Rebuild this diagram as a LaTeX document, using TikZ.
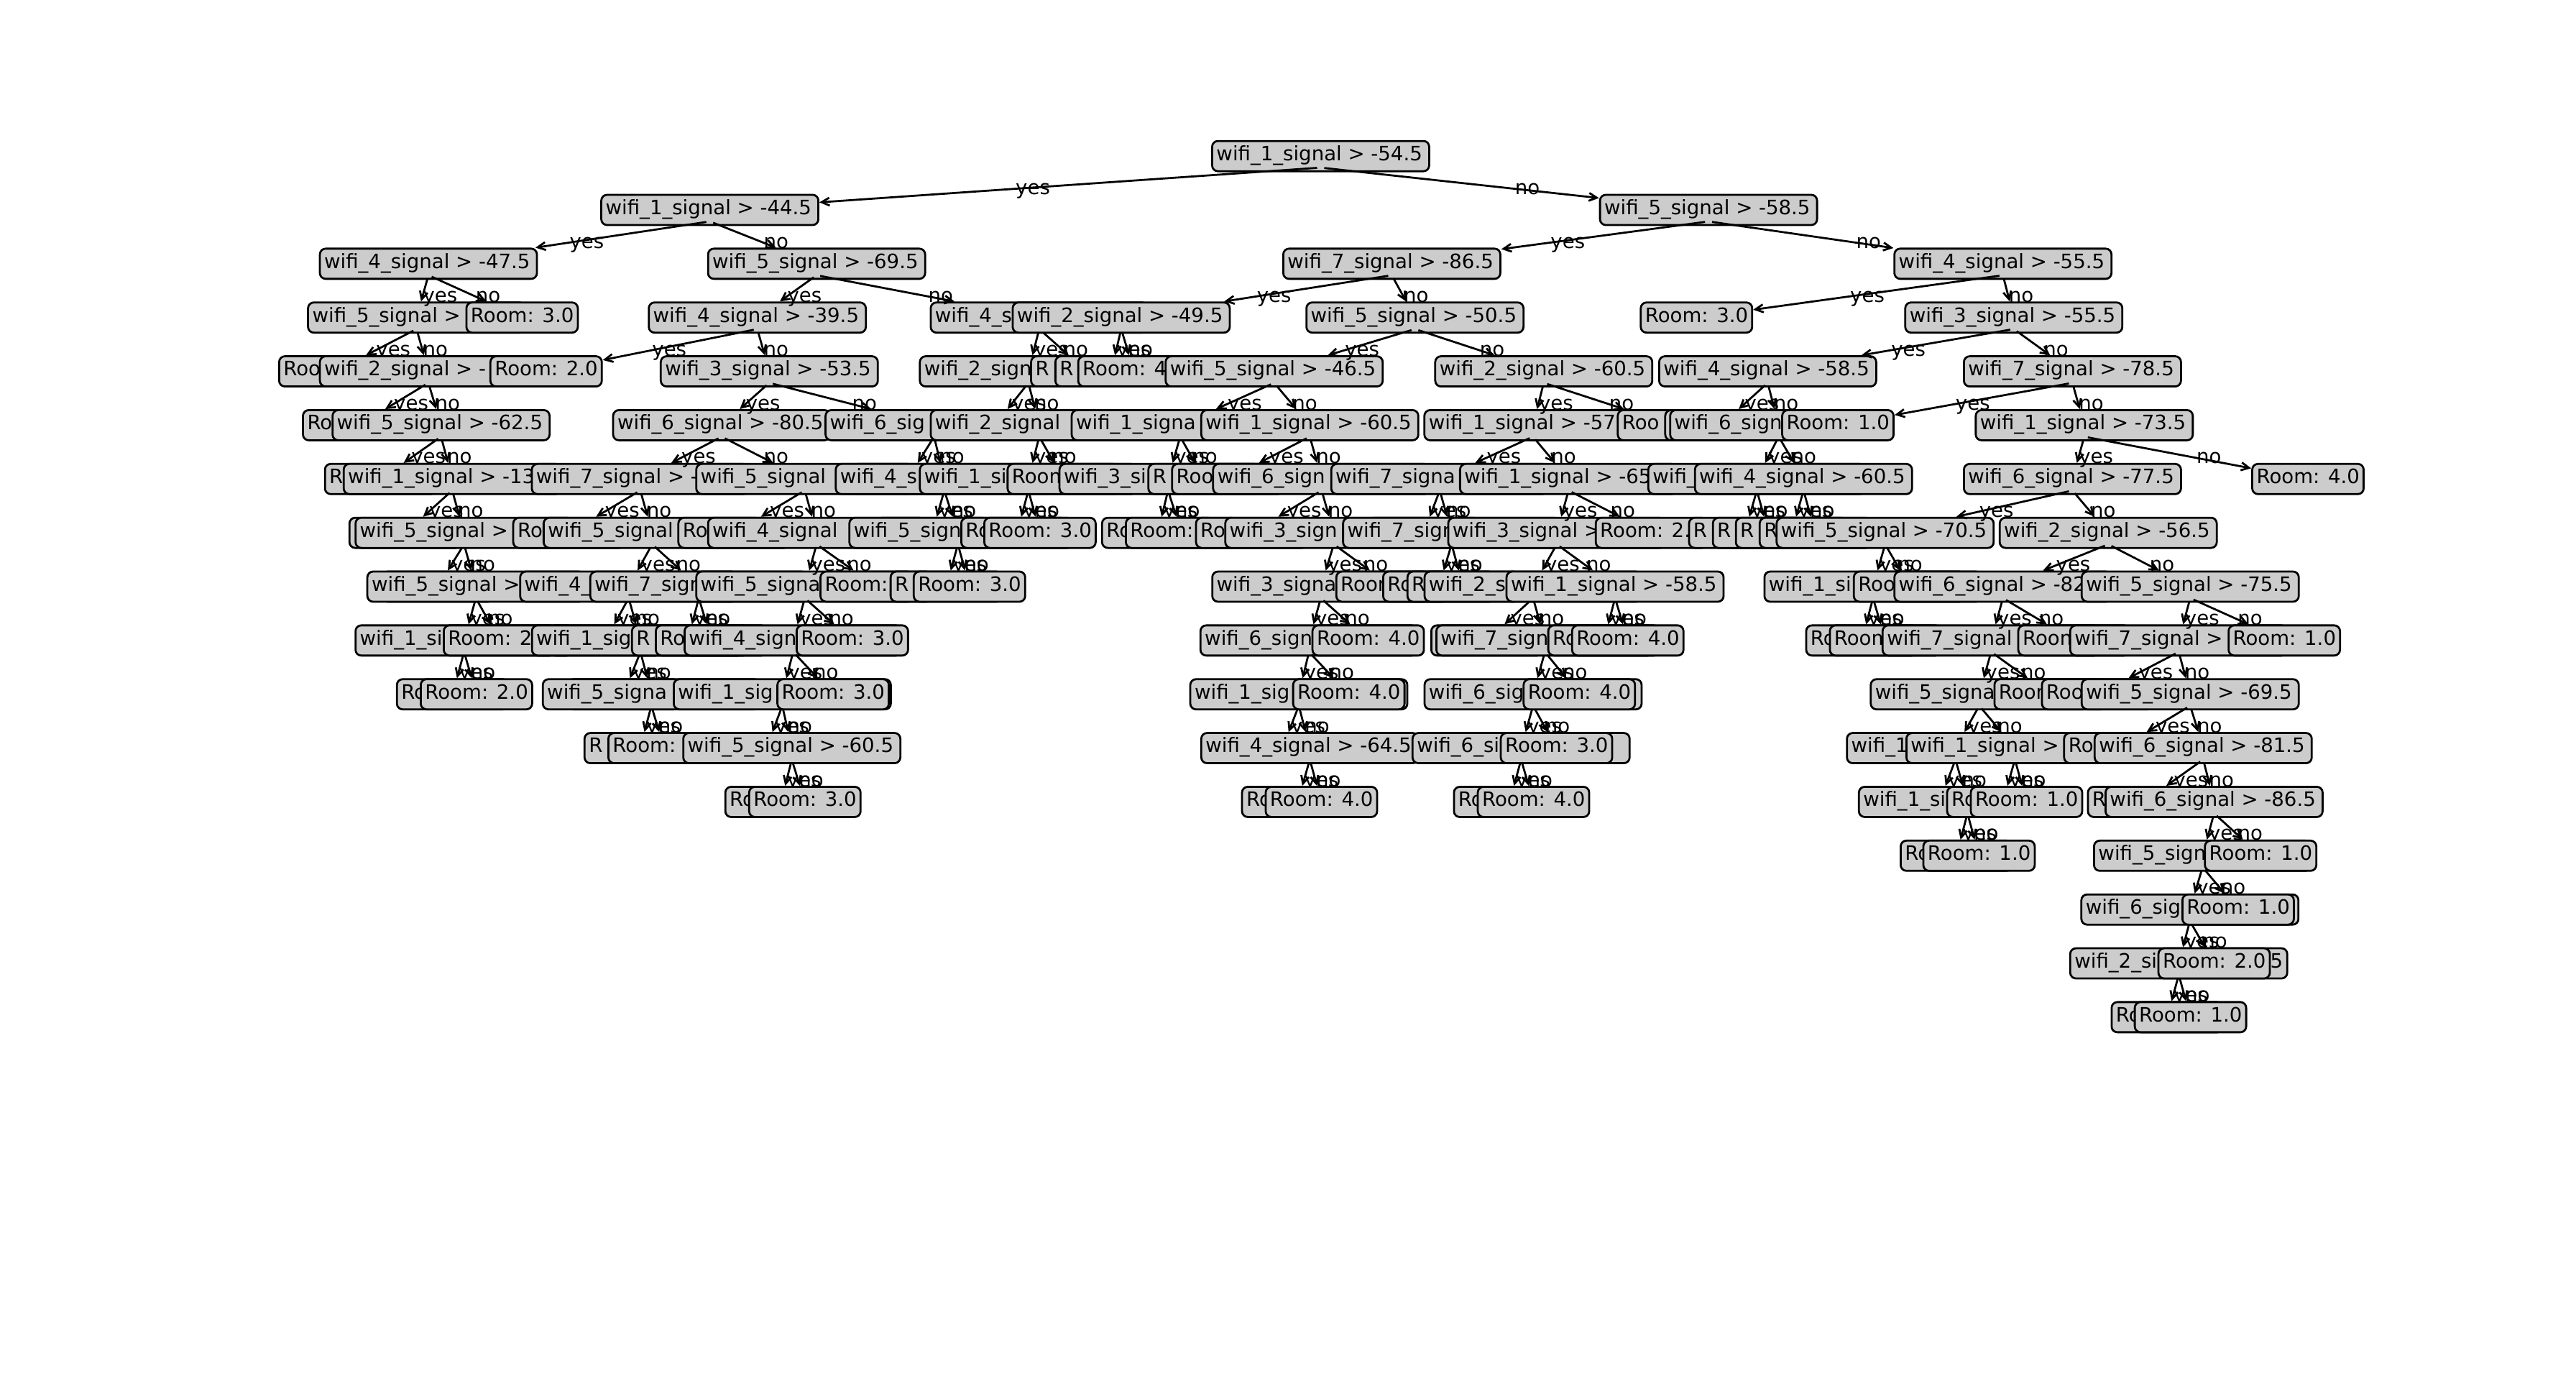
\documentclass[tikz,border=0pt]{standalone}
\usepackage{fontspec}
\setmainfont{DejaVu Sans}
\usetikzlibrary{arrows.meta,calc}
\definecolor{boxgray}{HTML}{CCCCCC}
\newcommand\mplfont{\fontsize{7.85pt}{9.4pt}\selectfont}
\newcommand\sgnode[4]{\node[sig] (#1) at (#2,{95+32.75*(#3)}) {\makebox[29mm][l]{#4}};}
\newcommand\rmnode[4]{\node[room] (#1) at (#2,{95+32.75*(#3)}) {\makebox[14.3mm][l]{#4}};}
\newcommand\edg[3]{\draw[arr] ($(#1.center)+(0,7)$) -- (#2); \node[lbl] (l#2) at ($(#1.center)!0.5!(#2.center)+(0,7)$) {#3};}
\begin{document}
\begin{tikzpicture}[x=0.22857mm, y=-0.22857mm,
  box/.style={draw=black, fill=boxgray, line width=0.79pt, rounded corners=0.8mm, anchor=west, inner xsep=0.6mm, inner ysep=0.6mm, text height=2.13mm, text depth=0.87mm, font=\mplfont},
  sig/.style={box}, room/.style={box},
  arr/.style={-{Straight Barb[length=1.1mm,width=1.1mm]}, line width=0.79pt, shorten <=0.5mm},
  lbl/.style={anchor=base west, inner sep=0pt, font=\mplfont}]
\fill[white] (0,0) rectangle (1568,851);
\useasboundingbox (0,0) rectangle (1568,851);
% root
\sgnode{r}{737.2}{0}{wifi\_1\_signal > -54.5}
% ---------- A subtree
\sgnode{A}{365.4}{1}{wifi\_1\_signal > -44.5} \edg{r}{A}{yes}
\sgnode{A1}{194.1}{2}{wifi\_4\_signal > -47.5} \edg{A}{A1}{yes}
\sgnode{A11}{186.9}{3}{wifi\_5\_signal >} \edg{A1}{A11}{yes}
\rmnode{A111}{169.3}{4}{Roo} \edg{A11}{A111}{yes}
\sgnode{A112}{194.1}{4}{wifi\_2\_signal > -} \edg{A11}{A112}{no}
\rmnode{A1121}{183.8}{5}{Ro} \edg{A112}{A1121}{yes}
\sgnode{A1122}{201.8}{5}{wifi\_5\_signal > -62.5} \edg{A112}{A1122}{no}
\rmnode{a1}{197.2}{6}{R} \edg{A1122}{a1}{yes}
\sgnode{b}{208.6}{6}{wifi\_1\_signal > -13} \edg{A1122}{b}{no}
\rmnode{b1}{212.1}{7}{} \edg{b}{b1}{yes}
\sgnode{b2}{215.8}{7}{wifi\_5\_signal >} \edg{b}{b2}{no}
\rmnode{h4}{232}{8}{} \edg{b2}{h4}{yes}
\sgnode{b22}{223}{8}{wifi\_5\_signal >} \edg{b2}{b22}{no}
\sgnode{b221}{215.8}{9}{wifi\_1\_si} \edg{b22}{b221}{yes}
\rmnode{b2211}{241}{10}{Ro} \edg{b221}{b2211}{yes}
\rmnode{b2212}{255.5}{10}{Room: 2.0} \edg{b221}{b2212}{no}
\rmnode{b222}{269.5}{9}{Room: 2} \edg{b22}{b222}{no}
\rmnode{A12}{283.3}{3}{Room: 3.0} \edg{A1}{A12}{no}
\sgnode{A2}{430.4}{2}{wifi\_5\_signal > -69.5} \edg{A}{A2}{no}
\sgnode{A21}{394.3}{3}{wifi\_4\_signal > -39.5} \edg{A2}{A21}{yes}
\rmnode{A211}{297.9}{4}{Room: 2.0} \edg{A21}{A211}{yes}
\sgnode{A212}{401.6}{4}{wifi\_3\_signal > -53.5} \edg{A21}{A212}{no}
\sgnode{c}{372.6}{5}{wifi\_6\_signal > -80.5} \edg{A212}{c}{yes}
\sgnode{c1}{323.1}{6}{wifi\_7\_signal > -} \edg{c}{c1}{yes}
\rmnode{c11}{311.8}{7}{Ro} \edg{c1}{c11}{yes}
\sgnode{c12}{330.3}{7}{wifi\_5\_signal} \edg{c1}{c12}{no}
\sgnode{c121}{316}{8}{wifi\_4\_} \edg{c12}{c121}{yes}
\rmnode{h5}{334}{9}{} \edg{c121}{h5}{yes}
\sgnode{c1212}{323.2}{9}{wifi\_1\_sig} \edg{c121}{c1212}{no}
\rmnode{h6}{345}{10}{} \edg{c1212}{h6}{yes}
\sgnode{c12122}{329.8}{10}{wifi\_5\_signa} \edg{c1212}{c12122}{no}
\rmnode{c121221}{355.2}{11}{R} \edg{c12122}{c121221}{yes}
\rmnode{c121222}{369.7}{11}{Room:} \edg{c12122}{c121222}{no}
\sgnode{c122}{358.7}{8}{wifi\_7\_sign} \edg{c12}{c122}{no}
\rmnode{c1221}{384.1}{9}{R} \edg{c122}{c1221}{yes}
\rmnode{c1222}{398.6}{9}{Ro} \edg{c122}{c1222}{no}
\sgnode{c2}{423.2}{6}{wifi\_5\_signal} \edg{c}{c2}{no}
\rmnode{c21}{412.3}{7}{Ro} \edg{c2}{c21}{yes}
\sgnode{c22}{430.4}{7}{wifi\_4\_signal} \edg{c2}{c22}{no}
\sgnode{c221}{423.2}{8}{wifi\_5\_signa} \edg{c22}{c221}{yes}
\sgnode{c2211}{416.1}{9}{wifi\_4\_sign} \edg{c221}{c2211}{yes}
\sgnode{c22111}{409.5}{10}{wifi\_1\_sig} \edg{c2211}{c22111}{yes}
\rmnode{h7}{432}{11}{} \edg{c22111}{h7}{yes}
\sgnode{c221112}{415.3}{11}{wifi\_5\_signal > -60.5} \edg{c22111}{c221112}{no}
\rmnode{c2211121}{440.9}{12}{Ro} \edg{c221112}{c2211121}{yes}
\rmnode{c2211122}{455.4}{12}{Room: 3.0} \edg{c221112}{c2211122}{no}
\rmnode{c22112}{472.6}{10}{Room: 3.0} \edg{c2211}{c22112}{no}
\rmnode{c2212}{484.3}{9}{Room: 3.0} \edg{c221}{c2212}{no}
\rmnode{c222}{498.8}{8}{Room:} \edg{c22}{c222}{no}
\sgnode{d}{501.9}{5}{wifi\_6\_sig} \edg{A212}{d}{no}
\rmnode{h2}{518}{6}{} \edg{d}{h2}{yes}
\sgnode{d2}{508.1}{6}{wifi\_4\_s} \edg{d}{d2}{no}
\rmnode{h3}{533}{7}{} \edg{d2}{h3}{yes}
\sgnode{d22}{516.4}{7}{wifi\_5\_sign} \edg{d2}{d22}{no}
\rmnode{d221}{541.5}{8}{R} \edg{d22}{d221}{yes}
\rmnode{d222}{555.6}{8}{Room: 3.0} \edg{d22}{d222}{no}
\sgnode{A22}{565.9}{3}{wifi\_4\_s} \edg{A2}{A22}{no}
\sgnode{e}{559.3}{4}{wifi\_2\_sign} \edg{A22}{e}{yes}
\rmnode{h1}{571}{5}{} \edg{e}{h1}{yes}
\sgnode{e2}{565.9}{5}{wifi\_2\_signal} \edg{e}{e2}{no}
\sgnode{e21}{559.3}{6}{wifi\_1\_si} \edg{e2}{e21}{yes}
\rmnode{e211}{584.5}{7}{Ro} \edg{e21}{e211}{yes}
\rmnode{e212}{598.5}{7}{Room: 3.0} \edg{e21}{e212}{no}
\rmnode{e22}{612.7}{6}{Room} \edg{e2}{e22}{no}
\rmnode{A222}{627}{4}{R} \edg{A22}{A222}{no}
% ---------- B subtree
\sgnode{B}{973.3}{1}{wifi\_5\_signal > -58.5} \edg{r}{B}{no}
\sgnode{B1}{780.5}{2}{wifi\_7\_signal > -86.5} \edg{B}{B1}{yes}
\sgnode{B11}{615.8}{3}{wifi\_2\_signal > -49.5} \edg{B1}{B11}{yes}
\rmnode{B111}{641.8}{4}{R} \edg{B11}{B111}{yes}
\rmnode{B112}{655.7}{4}{Room: 4} \edg{B11}{B112}{no}
\sgnode{B12}{794.6}{3}{wifi\_5\_signal > -50.5} \edg{B1}{B12}{no}
\sgnode{f}{708.9}{4}{wifi\_5\_signal > -46.5} \edg{B12}{f}{yes}
\sgnode{f1}{651.7}{5}{wifi\_1\_signa} \edg{f}{f1}{yes}
\sgnode{f11}{644.3}{6}{wifi\_3\_si} \edg{f1}{f11}{yes}
\rmnode{f111}{670.2}{7}{Ro} \edg{f11}{f111}{yes}
\rmnode{f112}{684.7}{7}{Room:} \edg{f11}{f112}{no}
\rmnode{f12}{698.4}{6}{R} \edg{f1}{f12}{no}
\sgnode{f2}{730.6}{5}{wifi\_1\_signal > -60.5} \edg{f}{f2}{no}
\rmnode{f21}{712.8}{6}{Roo} \edg{f2}{f21}{yes}
\sgnode{f22}{737.8}{6}{wifi\_6\_sign} \edg{f2}{f22}{no}
\rmnode{f221}{727.4}{7}{Ro} \edg{f22}{f221}{yes}
\sgnode{f222}{745.2}{7}{wifi\_3\_sign} \edg{f22}{f222}{no}
\sgnode{f2221}{737.3}{8}{wifi\_3\_signa} \edg{f222}{f2221}{yes}
\sgnode{f22211}{730.1}{9}{wifi\_6\_sign} \edg{f2221}{f22211}{yes}
\sgnode{f222111}{723.9}{10}{wifi\_1\_sig} \edg{f22211}{f222111}{yes}
\rmnode{h9}{746}{11}{} \edg{f222111}{h9}{yes}
\sgnode{f2221112}{730.6}{11}{wifi\_4\_signal > -64.5} \edg{f222111}{f2221112}{no}
\rmnode{f22211121}{755.4}{12}{Ro} \edg{f2221112}{f22211121}{yes}
\rmnode{f22211122}{769.8}{12}{Room: 4.0} \edg{f2221112}{f22211122}{no}
\rmnode{f222112}{786.5}{10}{Room: 4.0} \edg{f22211}{f222112}{no}
\rmnode{f22212}{798.3}{9}{Room: 4.0} \edg{f2221}{f22212}{no}
\rmnode{f2222}{812.8}{8}{Room} \edg{f222}{f2222}{no}
\sgnode{g}{873}{4}{wifi\_2\_signal > -60.5} \edg{B12}{g}{no}
\sgnode{g1}{866.4}{5}{wifi\_1\_signal > -57} \edg{g}{g1}{yes}
\sgnode{g11}{809.7}{6}{wifi\_7\_signa} \edg{g1}{g11}{yes}
\rmnode{h8}{832}{7}{} \edg{g11}{h8}{yes}
\sgnode{g112}{816.9}{7}{wifi\_7\_sign} \edg{g11}{g112}{no}
\rmnode{g1121}{841.3}{8}{Ro} \edg{g112}{g1121}{yes}
\rmnode{g1122}{856.1}{8}{R} \edg{g112}{g1122}{no}
\sgnode{g12}{888.1}{6}{wifi\_1\_signal > -65} \edg{g1}{g12}{no}
\sgnode{g121}{880.9}{7}{wifi\_3\_signal >} \edg{g12}{g121}{yes}
\sgnode{g1211}{866.5}{8}{wifi\_2\_s} \edg{g121}{g1211}{yes}
\rmnode{g12111}{870.6}{9}{} \edg{g1211}{g12111}{yes}
\sgnode{g12112}{873.7}{9}{wifi\_7\_sign} \edg{g1211}{g12112}{no}
\sgnode{g121121}{866.5}{10}{wifi\_6\_sig} \edg{g12112}{g121121}{yes}
\sgnode{g1211211}{859.2}{11}{wifi\_6\_si} \edg{g121121}{g1211211}{yes}
\rmnode{g12112111}{884.4}{12}{Ro} \edg{g1211211}{g12112111}{yes}
\rmnode{g12112112}{898.9}{12}{Room: 4.0} \edg{g1211211}{g12112112}{no}
\rmnode{g1211212}{912.9}{11}{Room: 3.0} \edg{g121121}{g1211212}{no}
\rmnode{g121122}{926.8}{10}{Room: 4.0} \edg{g12112}{g121122}{no}
\sgnode{g1212}{916.4}{8}{wifi\_1\_signal > -58.5} \edg{g121}{g1212}{no}
\rmnode{g12121}{941.8}{9}{Ro} \edg{g1212}{g12121}{yes}
\rmnode{g12122}{956.3}{9}{Room: 4.0} \edg{g1212}{g12122}{no}
\rmnode{g122}{970.7}{7}{Room: 2.} \edg{g12}{g122}{no}
\rmnode{g2}{984.1}{5}{Roo} \edg{g}{g2}{no}
\sgnode{C}{1152.5}{2}{wifi\_4\_signal > -55.5} \edg{B}{C}{no}
\rmnode{C1}{998.1}{3}{Room: 3.0} \edg{C}{C1}{yes}
\sgnode{C2}{1159.1}{3}{wifi\_3\_signal > -55.5} \edg{C}{C2}{no}
\sgnode{C21}{1009.3}{4}{wifi\_4\_signal > -58.5} \edg{C2}{C21}{yes}
\rmnode{C211}{1013}{5}{} \edg{C21}{C211}{yes}
\sgnode{C212}{1016}{5}{wifi\_6\_sign} \edg{C21}{C212}{no}
\sgnode{C2121}{1002.7}{6}{wifi\_} \edg{C212}{C2121}{yes}
\rmnode{C21211}{1027.5}{7}{R} \edg{C2121}{C21211}{yes}
\rmnode{C21212}{1042}{7}{R} \edg{C2121}{C21212}{no}
\sgnode{C2122}{1031.1}{6}{wifi\_4\_signal > -60.5} \edg{C212}{C2122}{no}
\rmnode{C21221}{1056}{7}{R} \edg{C2122}{C21221}{yes}
\rmnode{C21222}{1070.5}{7}{R} \edg{C2122}{C21222}{no}
\sgnode{C22}{1194.8}{4}{wifi\_7\_signal > -78.5} \edg{C2}{C22}{no}
\rmnode{C221}{1084.2}{5}{Room: 1.0} \edg{C22}{C221}{yes}
\sgnode{C222}{1202}{5}{wifi\_1\_signal > -73.5} \edg{C22}{C222}{no}
\sgnode{D}{1194.8}{6}{wifi\_6\_signal > -77.5} \edg{C222}{D}{yes}
\sgnode{D1}{1080.8}{7}{wifi\_5\_signal > -70.5} \edg{D}{D1}{yes}
\sgnode{D11}{1073.4}{8}{wifi\_1\_si} \edg{D1}{D11}{yes}
\rmnode{D111}{1098.8}{9}{Ro} \edg{D11}{D111}{yes}
\rmnode{D112}{1113.2}{9}{Room} \edg{D11}{D112}{no}
\rmnode{D12}{1127.8}{8}{Roo} \edg{D1}{D12}{no}
\sgnode{D2}{1216.6}{7}{wifi\_2\_signal > -56.5} \edg{D}{D2}{no}
\sgnode{D21}{1152.5}{8}{wifi\_6\_signal > -82} \edg{D2}{D21}{yes}
\sgnode{D211}{1145.3}{9}{wifi\_7\_signal} \edg{D21}{D211}{yes}
\sgnode{D2111}{1138.1}{10}{wifi\_5\_signa} \edg{D211}{D2111}{yes}
\sgnode{D21111}{1123.6}{11}{wifi\_1} \edg{D2111}{D21111}{yes}
\rmnode{h10}{1146}{12}{} \edg{D21111}{h10}{yes}
\sgnode{D211112}{1130.9}{12}{wifi\_1\_si} \edg{D21111}{D211112}{no}
\rmnode{D2111121}{1156.3}{13}{Ro} \edg{D211112}{D2111121}{yes}
\rmnode{D2111122}{1170.1}{13}{Room: 1.0} \edg{D211112}{D2111122}{no}
\sgnode{D21112}{1159.8}{11}{wifi\_1\_signal >} \edg{D2111}{D21112}{no}
\rmnode{D211121}{1184.6}{12}{Ro} \edg{D21112}{D211121}{yes}
\rmnode{D211122}{1199}{12}{Room: 1.0} \edg{D21112}{D211122}{no}
\rmnode{D2112}{1213.4}{10}{Room} \edg{D211}{D2112}{no}
\rmnode{D212}{1227.9}{9}{Room} \edg{D21}{D212}{no}
\sgnode{D22}{1266.5}{8}{wifi\_5\_signal > -75.5} \edg{D2}{D22}{no}
\sgnode{D221}{1259.5}{9}{wifi\_7\_signal >} \edg{D22}{D221}{yes}
\rmnode{D2211}{1242.3}{10}{Roo} \edg{D221}{D2211}{yes}
\sgnode{D2212}{1266.5}{10}{wifi\_5\_signal > -69.5} \edg{D221}{D2212}{no}
\rmnode{D22121}{1255.8}{11}{Ro} \edg{D2212}{D22121}{yes}
\sgnode{D22122}{1274.4}{11}{wifi\_6\_signal > -81.5} \edg{D2212}{D22122}{no}
\rmnode{D221221}{1270.3}{12}{R} \edg{D22122}{D221221}{yes}
\sgnode{D221222}{1281}{12}{wifi\_6\_signal > -86.5} \edg{D22122}{D221222}{no}
\sgnode{E}{1274}{13}{wifi\_5\_sign} \edg{D221222}{E}{yes}
\sgnode{E1}{1266.3}{14}{wifi\_6\_sig} \edg{E}{E1}{yes}
\sgnode{E11}{1259.5}{15}{wifi\_2\_si\hfill 5} \edg{E1}{E11}{yes}
\rmnode{E111}{1284.7}{16}{Ro} \edg{E11}{E111}{yes}
\rmnode{E112}{1298.8}{16}{Room: 1.0} \edg{E11}{E112}{no}
\rmnode{E12}{1313.2}{15}{Room: 2.0} \edg{E1}{E12}{no}
\rmnode{E2}{1327.8}{14}{Room: 1.0} \edg{E}{E2}{no}
\rmnode{E0}{1341.5}{13}{Room: 1.0} \edg{D221222}{E0}{no}
\rmnode{D222}{1355.9}{9}{Room: 1.0} \edg{D22}{D222}{no}
\rmnode{C2222}{1370.3}{6}{Room: 4.0} \edg{C222}{C2222}{no}
\end{tikzpicture}
\end{document}
